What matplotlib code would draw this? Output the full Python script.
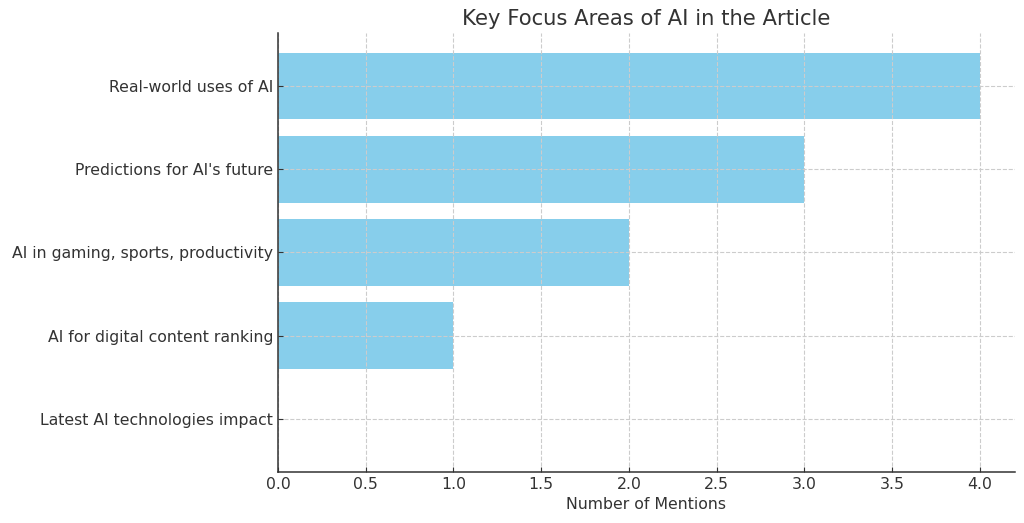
import matplotlib
matplotlib.use("Agg")
from matplotlib import pyplot as plt

# data
areas = [
    "Latest AI technologies impact",
    "AI for digital content ranking",
    "AI in gaming, sports, productivity",
    "Predictions for AI's future",
    "Real-world uses of AI",
]
mentions = [0, 1, 2, 3, 4]

plt.rcParams["text.color"] = "#333333"
plt.rcParams["axes.labelcolor"] = "#333333"
plt.rcParams["xtick.color"] = "#333333"
plt.rcParams["ytick.color"] = "#333333"
plt.rcParams["xtick.direction"] = "in"
plt.rcParams["ytick.direction"] = "in"

fig = plt.figure(figsize=(10.24, 5.23), dpi=100)
ax = fig.add_axes([0.2715, 0.0975, 0.7195, 0.8395])

ax.barh(areas, mentions, color="skyblue")
ax.set_title("Key Focus Areas of AI in the Article", fontsize=15.2)
ax.set_xlabel("Number of Mentions", fontsize=11.3)
ax.tick_params(labelsize=11.3)
ax.grid(True, linestyle="--", color="#cccccc", linewidth=0.8)

for side in ["top", "right"]:
    ax.spines[side].set_visible(False)
for side in ["left", "bottom"]:
    ax.spines[side].set_color("#333333")
    ax.spines[side].set_linewidth(1.1)

plt.savefig("out.png")
